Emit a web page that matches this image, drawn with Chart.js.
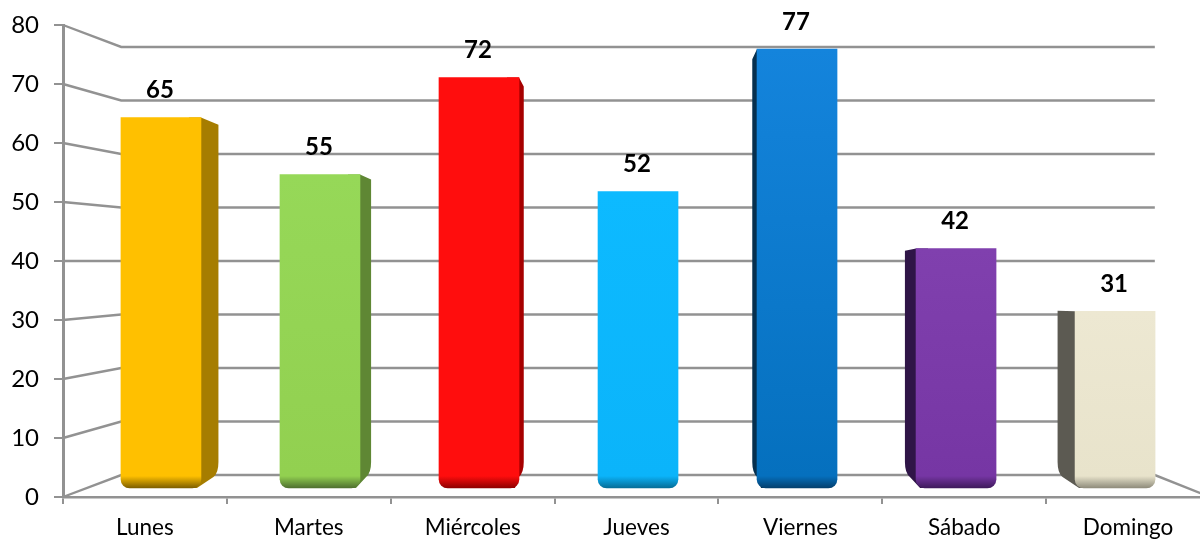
<!DOCTYPE html>
<html>
<head>
<meta charset="utf-8">
<style>
html,body{margin:0;padding:0;background:#fff;overflow:hidden;width:1200px;height:539px}
canvas{display:block}
</style>
<script src="https://cdn.jsdelivr.net/npm/chart.js@4"></script>
</head>
<body>
<canvas id="c" width="1210" height="539" style="width:1210px;height:539px"></canvas>
<script>
const categories = ["Lunes","Martes","Miércoles","Jueves","Viernes","Sábado","Domingo"];
const values = [65,55,72,52,77,42,31];
const wallTicks = [0,10,20,30,40,50,60,70,80];
const faceTop = ["#FFC000","#96D858","#FF0D0D","#0DBAFF","#1484DC","#8040AE","#EDE8D2"];
const faceBottom = ["#FFC000","#92D050","#FF0D0D","#0BB4FA","#0570BE","#7636A4","#E8E3CB"];
const faceShade = ["#7E5F00","#4F7030","#8F0000","#066E98","#04406E","#3F1A5C","#8F8C7C"];
const sideColors = ["#A67D00","#5F8734","#A60000","#0880B0","#06304F","#2F1547","#5C5A52"];

const GRID = "#929292";
const VX = 638, VY = 300, DEPTH = 0.04;

const perspective = {
  id: "perspective",
  beforeDatasetsDraw(chart) {
    const {ctx, scales} = chart;
    const {y, yw, xb, x} = scales;
    const wl = xb.getPixelForValue(-0.25), wr = xb.getPixelForValue(6.25);
    ctx.save();
    ctx.strokeStyle = GRID;
    ctx.lineWidth = 2.4;
    wallTicks.forEach(t => {
      const py = yw.getPixelForValue(t);
      ctx.beginPath();
      ctx.moveTo(x.left, y.getPixelForValue(t));
      ctx.lineTo(wl, py);
      ctx.lineTo(wr, py);
      if (t === 0) ctx.lineTo(x.right, y.getPixelForValue(0));
      ctx.stroke();
    });
    // side faces of the bars, receding to the vanishing point
    chart.getDatasetMeta(0).data.forEach((bar, i) => {
      const l = bar.x - bar.width / 2, r = bar.x + bar.width / 2;
      let edge;
      if (r < VX) edge = r; else if (l > VX) edge = l; else return;
      const dx = (VX - edge) * DEPTH;
      const top = bar.y, base = bar.base;
      const dirn = Math.sign(dx);
      ctx.fillStyle = sideColors[i];
      ctx.beginPath();
      ctx.moveTo(edge, top);
      ctx.lineTo(edge + dx, top + (VY - top) * DEPTH);
      ctx.lineTo(edge + dx, base - 26);
      ctx.quadraticCurveTo(edge + dx, base - 15, edge + dx - 5 * dirn, base - 11);
      ctx.lineTo(edge - 4 * dirn, base);
      ctx.lineTo(edge - 12 * dirn, base);
      ctx.lineTo(edge - 12 * dirn, top);
      ctx.closePath();
      ctx.fill();
    });
    ctx.restore();
  },
  afterDatasetsDraw(chart) {
    const {ctx} = chart;
    ctx.save();
    ctx.font = "bold 24px Lato";
    ctx.fillStyle = "#000";
    ctx.textAlign = "center";
    ctx.textBaseline = "middle";
    chart.getDatasetMeta(0).data.forEach((bar, i) => {
      ctx.fillText(String(values[i]), bar.x - 1, bar.y - 27);
    });
    ctx.restore();
  }
};

function barFill(c) {
  const i = c.dataIndex;
  if (i === undefined) return faceBottom[0];
  const s = c.chart.scales.yb;
  const top = s ? s.getPixelForValue(values[i]) : NaN;
  const bot = s ? s.getPixelForValue(0) : NaN;
  if (!isFinite(top) || !isFinite(bot) || bot <= top) return faceBottom[i];
  const g = c.chart.ctx.createLinearGradient(0, top, 0, bot);
  const k = 1 - 12 / (bot - top);
  g.addColorStop(0, faceTop[i]);
  g.addColorStop(k, faceBottom[i]);
  g.addColorStop(1, faceShade[i]);
  return g;
}

new Chart(document.getElementById("c"), {
  type: "bar",
  data: {
    labels: categories,
    datasets: [{
      data: values.map((v, i) => ({x: i, y: v})),
      xAxisID: "xb",
      yAxisID: "yb",
      barThickness: 80,
      backgroundColor: barFill,
      borderWidth: 0,
      borderSkipped: false,
      borderRadius: {topLeft: 0, topRight: 0, bottomLeft: 9, bottomRight: 9}
    }]
  },
  options: {
    responsive: false,
    animation: false,
    devicePixelRatio: 1,
    layout: {padding: {top: 25, left: 0, right: 0, bottom: 0}},
    plugins: {legend: {display: false}, tooltip: {enabled: false}},
    scales: {
      x: {
        type: "category",
        position: "bottom",
        offset: true,
        afterFit(s) { s.height = 42; s.paddingLeft = 0; s.paddingRight = 0; },
        border: {color: GRID, width: 2.5},
        grid: {drawOnChartArea: false, drawTicks: true, tickLength: 7, color: GRID, lineWidth: 2, offset: true},
        ticks: {font: {family: "Lato", size: 22.5}, color: "#000", padding: 10, maxRotation: 0, autoSkip: false}
      },
      y: {
        type: "linear",
        position: "left",
        min: 0, max: 80,
        afterFit(s) { s.width = 63; s.paddingTop = 0; s.paddingBottom = 0; },
        border: {color: GRID, width: 3},
        grid: {drawOnChartArea: false, drawTicks: true, tickLength: 9, color: GRID, lineWidth: 2},
        ticks: {stepSize: 10, font: {family: "Lato", size: 24}, color: "#000", padding: 15}
      },
      xb: {type: "linear", display: false, offset: false, position: "bottom", min: -0.616, max: 6.597},
      yb: {type: "linear", display: false, position: "left", min: -1.579, max: 81.23},
      yw: {type: "linear", display: false, position: "left", min: -4.11, max: 84.11}
    }
  },
  plugins: [perspective]
});
</script>
</body>
</html>
